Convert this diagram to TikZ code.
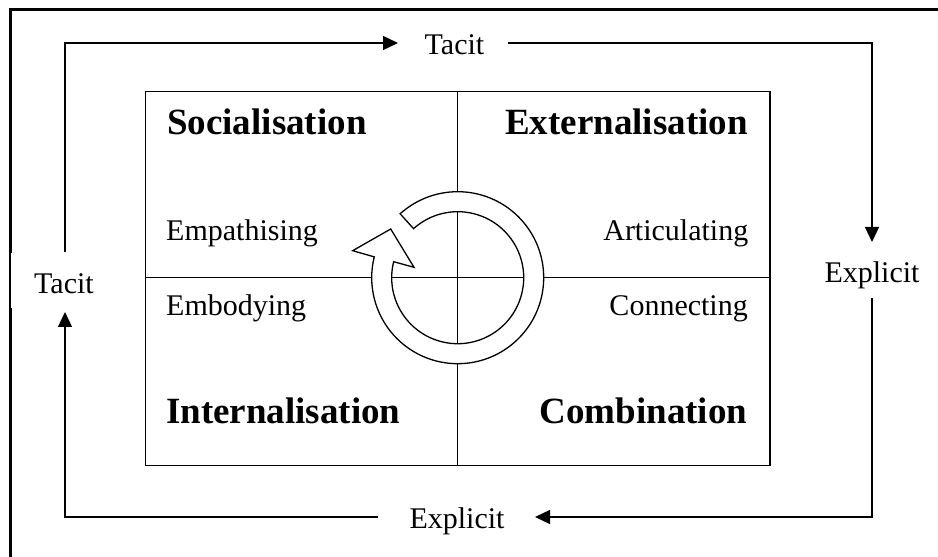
\documentclass[tikz,border=0pt]{standalone}
\usepackage{fontspec}
\setmainfont{Liberation Serif}
\usetikzlibrary{arrows.meta}
\begin{document}
\begin{tikzpicture}[x=1pt,y=1pt,
  thin line/.style={line width=1.3pt},
  flow/.style={line width=1.3pt,-{Triangle[length=15pt,width=14pt]}},
  mode/.style={inner sep=0pt,font=\fontsize{37}{41}\selectfont\bfseries},
  lbl/.style={inner sep=0pt,font=\fontsize{30}{34}\selectfont}]
\useasboundingbox (0,0) rectangle (938,557);

% outer frame (top and left edges)
\draw[line width=3pt] (938,547.5) -- (10.5,547.5) -- (10.5,0);
% label backing on the left side
\fill[white] (10.5,249) rectangle (118,304);

% the four-quadrant matrix
\draw[thin line] (145.5,91.7) rectangle (770,465.5);
\draw[thin line] (457.7,91.7) -- (457.7,465.5);
\draw[thin line] (145.5,279.3) -- (770,279.3);

% mode names
\node[mode, anchor=base west] (soc) at (167,422) {Socialisation};
\node[mode, anchor=base east] (ext) at (748,422) {Externalisation};
\node[mode, anchor=base west] (int) at (166,133) {Internalisation};
\node[mode, anchor=base east] (com) at (747.5,133) {Combination};

% activities
\node[lbl, anchor=base west] (emp) at (166,316) {Empathising};
\node[lbl, anchor=base east] (art) at (748.5,316) {Articulating};
\node[lbl, anchor=base west] (emb) at (166,241) {Embodying};
\node[lbl, anchor=base east] (con) at (748,241) {Connecting};

% central spiral arrow
\begin{scope}[shift={(457.7,279.3)}]
  \draw[thin line, fill=white, line join=miter]
    (132:86) arc[start angle=132, end angle=-194, radius=86]
    -- (-105,27) -- (-67,48.7) -- (-43.7,10.4)
    -- (-194:66) arc[start angle=-194, end angle=132, radius=66]
    -- cycle;
\end{scope}

% knowledge-type labels on the outer loop
\node[lbl, anchor=base] (tt) at (454.5,502) {Tacit};
\node[lbl, anchor=base] (er) at (872,274) {Explicit};
\node[lbl, anchor=base] (eb) at (457,28) {Explicit};
\node[lbl, anchor=base] (tl) at (64,263) {Tacit};

% loop corners and gaps around the labels
\coordinate (c1) at (65,514);
\coordinate (c2) at (872,514);
\coordinate (c3) at (872,40);
\coordinate (c4) at (65,40);
\coordinate (tA) at (398,514);
\coordinate (tB) at (508,514);
\coordinate (rA) at (872,315);
\coordinate (rB) at (872,259);
\coordinate (bA) at (535,40);
\coordinate (bB) at (378,40);
\coordinate (lA) at (65,245);
\coordinate (lB) at (65,305);

\draw[flow] (lB) -- (c1) -- (tA);
\draw[flow] (tB) -- (c2) -- (rA);
\draw[flow] (rB) -- (c3) -- (bA);
\draw[flow] (bB) -- (c4) -- (lA);
\end{tikzpicture}
\end{document}
